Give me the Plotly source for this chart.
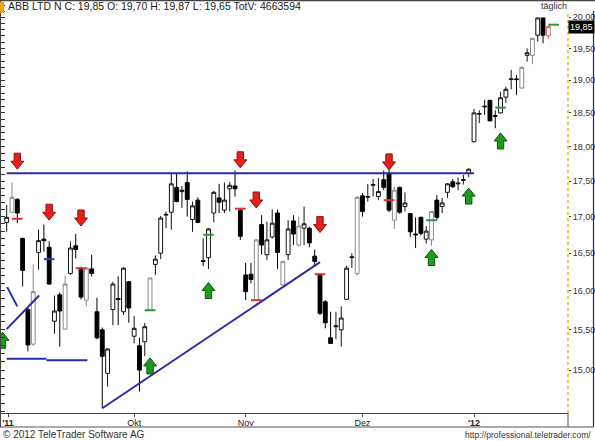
import math
import numpy as np
import plotly.graph_objects as go

# ---------------- data ----------------
opens = [16.92, 17.06, 17.24, 16.70, 15.76, 15.32, 16.51, 16.69, 16.58, 15.61,
         15.95, 15.51, 16.23, 16.60, 16.30, 15.88, 16.29, 15.73, 15.50, 14.96,
         15.76, 15.90, 15.73, 16.12, 15.42, 15.30, 15.35, 15.75, 16.35, 16.50,
         17.02, 17.06, 17.41, 17.35, 17.48, 16.96, 17.23, 16.40, 16.44, 17.05,
         17.26, 17.09, 17.39, 17.43, 17.09, 16.21, 16.22, 15.88, 16.89, 16.48,
         16.72, 17.05, 16.08, 16.48, 16.94, 16.61, 16.84, 16.84, 16.46, 16.21,
         15.86, 15.40, 15.54, 15.50, 15.89, 16.44, 16.23, 17.29, 17.27, 17.44,
         17.28, 17.52, 17.61, 16.95, 17.41, 17.14, 17.04, 16.76, 16.99, 16.69,
         16.68, 17.23, 17.14, 17.34, 17.49, 17.46, 17.51, 17.61, 18.07, 18.48,
         18.59, 18.69, 18.46, 18.50, 18.74, 19.01, 19.02, 18.88, 19.39, 19.39,
         19.71, 19.99, 19.70]
highs = [17.16, 17.48, 17.26, 16.71, 15.78, 16.35, 16.82, 16.89, 16.66, 15.94,
         15.98, 16.20, 16.66, 16.76, 16.32, 16.31, 16.48, 15.91, 15.53, 15.27,
         16.12, 16.19, 16.31, 16.13, 15.68, 15.40, 15.59, 16.17, 16.47, 17.01,
         17.07, 17.60, 17.60, 17.43, 17.64, 17.21, 17.27, 16.70, 16.84, 17.36,
         17.46, 17.48, 17.49, 17.65, 17.12, 16.37, 16.37, 16.69, 17.02, 16.93,
         17.10, 17.10, 16.39, 16.95, 17.02, 17.00, 17.14, 16.86, 16.55, 16.22,
         15.88, 15.73, 15.73, 15.80, 16.33, 16.50, 17.29, 17.33, 17.46, 17.53,
         17.54, 17.65, 17.66, 17.42, 17.42, 17.34, 17.05, 16.99, 17.00, 16.87,
         17.08, 17.30, 17.26, 17.47, 17.53, 17.55, 17.59, 17.68, 18.56, 18.54,
         18.70, 18.70, 18.54, 18.82, 18.90, 19.16, 19.08, 19.22, 19.50, 19.66,
         19.99, 19.99, 19.87]
lows = [16.79, 17.05, 16.91, 16.06, 15.23, 15.30, 16.28, 16.52, 16.08, 15.45,
        15.29, 15.50, 16.21, 16.43, 15.89, 15.80, 16.19, 15.38, 14.54, 14.80,
        15.56, 15.56, 15.69, 15.59, 15.33, 14.74, 15.17, 15.74, 16.21, 16.42,
        16.84, 16.82, 17.20, 17.12, 17.00, 16.79, 16.91, 16.33, 16.29, 16.92,
        17.05, 17.05, 17.07, 17.28, 16.68, 15.88, 16.10, 15.88, 16.48, 16.41,
        16.70, 16.29, 16.08, 16.41, 16.61, 16.59, 16.61, 16.58, 16.32, 15.69,
        15.52, 15.33, 15.38, 15.29, 15.88, 16.30, 16.20, 17.00, 17.21, 17.28,
        17.23, 17.37, 17.06, 16.83, 17.04, 17.07, 16.72, 16.57, 16.74, 16.63,
        16.60, 16.95, 17.05, 17.26, 17.40, 17.37, 17.45, 17.56, 18.06, 18.35,
        18.47, 18.38, 18.27, 18.49, 18.65, 18.86, 18.77, 18.87, 19.29, 19.25,
        19.61, 19.58, 19.65]
closes = [16.99, 17.27, 17.05, 16.27, 15.31, 15.99, 16.67, 16.67, 16.09, 15.74,
          15.74, 16.09, 16.57, 16.55, 15.92, 16.30, 16.23, 15.40, 15.17, 15.26,
          16.09, 15.89, 16.30, 15.78, 15.52, 15.00, 15.54, 16.17, 16.42, 16.98,
          17.03, 17.46, 17.21, 17.37, 17.24, 17.15, 16.92, 16.39, 16.83, 17.34,
          17.20, 17.23, 17.44, 17.39, 16.73, 15.99, 16.15, 16.68, 16.61, 16.68,
          16.91, 16.51, 16.39, 16.83, 16.76, 16.87, 16.90, 16.64, 16.39, 15.71,
          15.59, 15.33, 15.55, 15.65, 16.30, 16.45, 17.27, 17.07, 17.28, 17.45,
          17.35, 17.41, 17.09, 17.37, 17.06, 17.19, 16.79, 16.75, 16.77, 16.80,
          17.07, 16.99, 17.19, 17.46, 17.42, 17.47, 17.52, 17.67, 18.50, 18.49,
          18.60, 18.38, 18.45, 18.73, 18.86, 19.02, 19.01, 19.20, 19.43, 19.66,
          19.99, 19.71, 19.85]
# candle look: W white, G grey outline, K black, R current (red outline)
styles = list("WGKKKGWKKW" "KGWKKGKKKW" "WKWKWKWGWW" "WWKWKWKKWW" "KWWKKKKGKW"
              "WKGWKGWKKK" "KKWWWWGKWW" "WKKGKWKKKW" "GKWWKWWWWW" "WKKWWWKGWG"
              "WKR")
total_volume = 4663594

month_ticks = [0.25, 24, 45, 67, 88]
month_labels = ["<b>'11</b>", "Okt", "Nov", "Dez", "<b>'12</b>"]
price_ticks = [15.0, 15.5, 16.0, 16.5, 17.0, 17.5, 18.0, 18.5, 19.0, 19.5, 20.0]

# short horizontal signal markers
mark_idx = [2, 8, 14, 27, 38, 44, 47, 59, 72, 80, 93, 103]
mark_price = [16.97, 16.42, 16.30, 15.75, 16.75, 17.11, 15.88, 16.22, 17.23, 16.95, 18.58, 19.88]
mark_color = ["#e03030", "#2040d0", "#e03030", "#2a9a2a", "#2a9a2a", "#e03030",
              "#e03030", "#e03030", "#e03030", "#4a8a4a", "#2a9a2a", "#2a9a2a"]

# arrows: sell (down, red) and buy (up, green); price = arrow tip
sell_idx = [2, 8, 14, 44, 47, 59, 72]
sell_price = [17.67, 16.95, 16.87, 17.69, 17.12, 16.78, 17.66]
buy_idx = [-0.8, 27, 38, 80, 87, 93]
buy_price = [15.47, 15.15, 16.11, 16.55, 17.40, 18.20]

# trend lines drawn on the chart
resist_x = [0, 88]
resist_y = [17.61, 17.61]
support_x = [18, 59]
support_y = [14.54, 16.38]
small_up_x = [0, 6.1]
small_up_y = [15.51, 15.94]
small_dn_x = [0.1, 2.0]
small_dn_y = [16.05, 15.80]
flat_x = [0, 7.5, None, 7.5, 15.2]
flat_y = [15.14, 15.14, None, 15.12, 15.12]

# ---------------- layout geometry ----------------
W, H = 595, 441
ML, MR, MT, MB = 1, 27, 1, 28
PW, PH = W - ML - MR, H - MT - MB
XR = [-1.07, 105.7]
YR = [math.log10(14.484), math.log10(20.268)]

n = len(opens)
assert len(highs) == n and len(lows) == n and len(closes) == n and len(styles) == n

FONT = "Liberation Sans, Arial, sans-serif"
BLUE = "#2b2ba8"

fig = go.Figure()

style_defs = {
    "W": ("#ffffff", "#111111"),
    "G": ("#ffffff", "#8a8a8a"),
    "K": ("#000000", "#000000"),
    "R": ("#ffffff", "#d46a6a"),
}
for s, (fill, line) in style_defs.items():
    ids = [i for i in range(n) if styles[i] == s]
    fig.add_trace(go.Candlestick(
        x=ids,
        open=[opens[i] for i in ids], high=[highs[i] for i in ids],
        low=[lows[i] for i in ids], close=[closes[i] for i in ids],
        increasing=dict(fillcolor=fill, line=dict(color=line, width=1)),
        decreasing=dict(fillcolor=fill, line=dict(color=line, width=1)),
        whiskerwidth=0, hoverinfo="skip", showlegend=False))

for xs, ys in [(resist_x, resist_y), (support_x, support_y), (small_up_x, small_up_y),
               (small_dn_x, small_dn_y), (flat_x, flat_y)]:
    fig.add_trace(go.Scatter(x=xs, y=ys, mode="lines", line=dict(color=BLUE, width=2),
                             hoverinfo="skip", showlegend=False, connectgaps=False))

for i, p, c in zip(mark_idx, mark_price, mark_color):
    fig.add_trace(go.Scatter(x=[i - 1, i + 1], y=[p, p], mode="lines",
                             line=dict(color=c, width=2), hoverinfo="skip", showlegend=False))

PX_PER_IDX = PW / (XR[1] - XR[0])
LOG_PER_PX = (YR[1] - YR[0]) / PH


def shift(price, dpx):
    return price * 10 ** (dpx * LOG_PER_PX)


def arrow(i, tip, up):
    s = -1 if up else 1  # direction of the arrow body away from tip (px, up positive)
    hw, sw, hh, tot = 6.5, 3.2, 8, 16
    dx = lambda px: i + px / PX_PER_IDX
    xs = [dx(0), dx(-hw), dx(-sw), dx(-sw), dx(sw), dx(sw), dx(hw), dx(0)]
    ys = [tip, shift(tip, s * hh), shift(tip, s * hh), shift(tip, s * tot),
          shift(tip, s * tot), shift(tip, s * hh), shift(tip, s * hh), tip]
    return xs, ys


for i, p in zip(sell_idx, sell_price):
    xs, ys = arrow(i, p, up=False)
    fig.add_trace(go.Scatter(x=xs, y=ys, mode="lines", fill="toself", fillcolor="#e3201c",
                             line=dict(color="#9a1010", width=1), hoverinfo="skip", showlegend=False))
for i, p in zip(buy_idx, buy_price):
    xs, ys = arrow(i, p, up=True)
    fig.add_trace(go.Scatter(x=xs, y=ys, mode="lines", fill="toself", fillcolor="#1f9a1f",
                             line=dict(color="#0d560d", width=1), hoverinfo="skip", showlegend=False))

# invisible trace to carry the left tick axis
fig.add_trace(go.Scatter(x=[0], y=[17], yaxis="y2", mode="markers",
                         marker=dict(opacity=0), hoverinfo="skip", showlegend=False))


def px_x(px):
    return (px - ML) / PW


def px_y(py):
    return (H - MB - py) / PH


def fmt(v):
    return f"{v:.2f}".replace(".", ",")


shapes = [
    # dotted yellow price axis line
    dict(type="line", xref="paper", yref="paper", x0=1, x1=1, y0=0, y1=px_y(11),
         line=dict(color="#d9c020", width=1.5, dash="dot")),
    # outer frame pieces
    dict(type="line", xref="paper", yref="paper", x0=px_x(0), x1=px_x(595), y0=px_y(0.5), y1=px_y(0.5),
         line=dict(color="#444444", width=1.5)),
    dict(type="line", xref="paper", yref="paper", x0=px_x(0), x1=px_x(593.5), y0=px_y(427), y1=px_y(427),
         line=dict(color="#555555", width=1)),
    dict(type="line", xref="paper", yref="paper", x0=1, x1=1, y0=0, y1=px_y(427),
         line=dict(color="#555555", width=1)),
    dict(type="line", xref="paper", yref="paper", x0=px_x(593.5), x1=px_x(593.5), y0=px_y(427), y1=px_y(11),
         line=dict(color="#1a2a6a", width=1.2)),
    dict(type="line", xref="paper", yref="paper", x0=px_x(0.5), x1=px_x(0.5), y0=px_y(427), y1=px_y(0),
         line=dict(color="#444444", width=1)),
    # small orange marker top-left
    dict(type="rect", xref="paper", yref="paper", x0=px_x(0), x1=px_x(4), y0=px_y(13), y1=px_y(2),
         line=dict(width=0), fillcolor="#f0a020"),
]

header = (f"ABB LTD N C: {fmt(closes[-1])} O: {fmt(opens[-1])} H: {fmt(highs[-1])} "
          f"L: {fmt(lows[-1])} TotV: {total_volume}")

annotations = [
    dict(text=header, xref="paper", yref="paper", x=px_x(6), y=px_y(6), xanchor="left",
         yanchor="middle", showarrow=False, font=dict(family=FONT, size=10.5, color="#222222")),
    dict(text="täglich", xref="paper", yref="paper", x=px_x(554), y=px_y(6), xanchor="center",
         yanchor="middle", showarrow=False, font=dict(family=FONT, size=9, color="#333333")),
    dict(text=fmt(closes[-1]), xref="paper", yref="y", x=1, y=math.log10(closes[-1]),
         xanchor="left", yanchor="middle", showarrow=False, bgcolor="#000000", borderpad=1,
         font=dict(family=FONT, size=9, color="#ffffff")),
    dict(text="© 2012 TeleTrader Software AG", xref="paper", yref="paper", x=px_x(1), y=px_y(434),
         xanchor="left", yanchor="middle", showarrow=False,
         font=dict(family=FONT, size=10, color="#333333")),
    dict(text="http://professional.teletrader.com/", xref="paper", yref="paper", x=px_x(593),
         y=px_y(435), xanchor="right", yanchor="middle", showarrow=False,
         font=dict(family=FONT, size=8.5, color="#333333")),
]

fig.update_layout(
    width=W, height=H,
    margin=dict(l=ML, r=MR, t=MT, b=MB, pad=0, autoexpand=False),
    paper_bgcolor="#ffffff", plot_bgcolor="#ffffff",
    showlegend=False, hovermode=False,
    boxgap=0.15, boxgroupgap=0.15,
    font=dict(family=FONT, size=9, color="#333333"),
    xaxis=dict(range=XR, showgrid=False, zeroline=False, rangeslider=dict(visible=False),
               tickvals=month_ticks, ticktext=month_labels, ticks="outside", ticklen=3,
               tickcolor="#444444", showline=True, linecolor="#444444", linewidth=1,
               tickfont=dict(family=FONT, size=9, color="#222222"), ticklabelstandoff=-2,
               automargin=False),
    yaxis=dict(type="log", range=YR, side="right", showgrid=False, zeroline=False,
               tickvals=price_ticks, ticktext=[fmt(v) for v in price_ticks],
               ticks="outside", ticklen=2, tickcolor="#333333", showline=False,
               tickfont=dict(family=FONT, size=9, color="#333333"), automargin=False),
    yaxis2=dict(type="log", range=YR, overlaying="y", side="left", anchor="x",
                showgrid=False, zeroline=False, showticklabels=False,
                tickvals=[round(v, 1) for v in np.arange(14.5, 20.3, 0.1)],
                ticks="inside", ticklen=4, tickcolor="#333333", showline=False,
                automargin=False),
    shapes=shapes, annotations=annotations,
)

fig.write_html("out.html", config={"displayModeBar": False},
               post_script="document.body.style.margin='0';document.body.style.padding='0';"
                           "document.documentElement.style.overflow='hidden';")
